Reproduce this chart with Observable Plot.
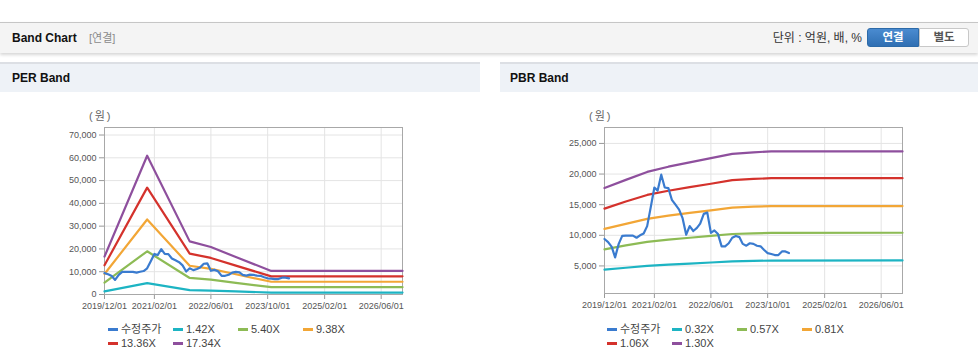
<!DOCTYPE html>
<html><head><meta charset="utf-8">
<script src="https://cdn.jsdelivr.net/npm/d3@7"></script>
<script src="https://cdn.jsdelivr.net/npm/@observablehq/plot@0.6"></script>
<style>
body{margin:0;width:978px;height:362px;position:relative;overflow:hidden;background:#fff;font-family:"Liberation Sans",Arial,"Noto Sans CJK KR",sans-serif;}
.abs{position:absolute}
.topbar{left:0;top:22px;width:978px;height:30px;background:#f4f4f4;border-top:1px solid #c6c6c6;box-shadow:0 2px 3px rgba(0,0,0,0.16)}
.hdr{top:62px;height:28px;background:#eef2f7;border-top:2px solid #dcdfe4}
.ttl{font-weight:bold;font-size:12px;color:#111;line-height:14px}
.unit{font-size:11px;color:#666;line-height:14px;letter-spacing:2px}
.leg{font-size:11px;color:#444;line-height:14px;white-space:nowrap}
.sw{display:inline-block;width:10px;height:3px;vertical-align:middle;margin-right:3px;position:relative;top:-1px}
.chart{top:100px}
</style></head>
<body>
<div class="abs topbar"></div>
<div class="abs ttl" style="left:12px;top:31px;">Band Chart</div>
<div class="abs" style="left:89px;top:31px;font-size:11px;color:#8a8a8a;line-height:14px">[연결]</div>
<div class="abs" style="left:700px;width:162px;text-align:right;top:31px;font-size:12px;color:#333;line-height:14px">단위 : 억원, 배, %</div>
<div class="abs" style="left:867px;top:28px;width:52px;height:19px;background:linear-gradient(#4a8bd0,#2f6fb3);border:1px solid #2c6aa8;box-sizing:border-box;border-radius:3px 0 0 3px;color:#fff;font-weight:bold;font-size:11.5px;text-align:center;line-height:17px">연결</div>
<div class="abs" style="left:919px;top:28px;width:50px;height:19px;background:#fff;border:1px solid #c8c8c8;box-sizing:border-box;border-radius:0 3px 3px 0;color:#555;font-weight:bold;font-size:11.5px;text-align:center;line-height:17px">별도</div>

<div class="abs hdr" style="left:0;width:480px"></div>
<div class="abs hdr" style="left:500px;width:478px"></div>
<div class="abs ttl" style="left:12px;top:71px">PER Band</div>
<div class="abs ttl" style="left:510px;top:71px">PBR Band</div>

<div class="abs unit" style="left:89px;top:109px">(원)</div>
<div class="abs unit" style="left:589px;top:109px">(원)</div>

<div id="per" class="abs chart" style="left:0"></div>
<div id="pbr" class="abs chart" style="left:500px"></div>

<script>
// ---- data ----
const xTickLabels = ["2019-12-01","2021-02-01","2022-06-01","2023-10-01","2025-02-01","2026-06-01"];
const xStart = "2019-12-01", xEnd = "2026-12-01";

const priceName = "수정주가";
const priceDates = ["2019-12-01",
 "2020-01-01","2020-02-01","2020-03-01","2020-04-01","2020-05-01","2020-06-01","2020-07-01","2020-08-01","2020-09-01","2020-10-01","2020-11-01","2020-12-01",
 "2021-01-01","2021-02-01","2021-03-01","2021-04-01","2021-05-01","2021-06-01","2021-07-01","2021-08-01","2021-09-01","2021-10-01","2021-11-01","2021-12-01",
 "2022-01-01","2022-02-01","2022-03-01","2022-04-01","2022-05-01","2022-06-01","2022-07-01","2022-08-01","2022-09-01","2022-10-01","2022-11-01","2022-12-01",
 "2023-01-01","2023-02-01","2023-03-01","2023-04-01","2023-05-01","2023-06-01","2023-07-01","2023-08-01","2023-09-01","2023-10-01","2023-11-01","2023-12-01",
 "2024-01-01","2024-02-01","2024-03-01","2024-04-01"];
const priceValues = [9400,
 8900,8100,6400,8600,9900,9950,9950,9950,9600,10000,10300,11500,
 14600,17800,17300,19900,17800,17700,15800,15000,14200,12800,10100,11500,
 10700,11200,11900,13500,13700,10400,10800,10200,8200,8200,8700,9600,
 9900,9700,8600,8300,8700,8600,8300,8200,7600,7100,6950,6780,
 6780,7370,7370,7100];

// PER band
const perBandDates = ["2019-12-01","2020-12-01","2021-12-01","2022-06-01","2023-01-01","2023-11-01","2026-12-01"];
const perNames = ["1.42X","5.40X","9.38X","13.36X","17.34X"];
const per142 = [1360, 4990, 1910, 1710, 1350, 850, 850];
const per540 = [5180, 18960, 7260, 6490, 5120, 3220, 3220];
const per938 = [9000, 32940, 12620, 11270, 8900, 5590, 5590];
const per1336 = [12830, 46920, 17970, 16050, 12680, 7960, 7960];
const per1734 = [16650, 60900, 23320, 20830, 16450, 10330, 10330];
const perYTicks = [0,10000,20000,30000,40000,50000,60000,70000];

// PBR band
const pbrBandDates = ["2019-12-01","2020-06-01","2020-12-01","2021-06-01","2021-12-01","2022-06-01","2022-12-01","2023-06-01","2023-11-01","2026-12-01"];
const pbrNames = ["0.32X","0.57X","0.81X","1.06X","1.30X"];
const pbr032 = [4400, 4700, 5010, 5220, 5390, 5560, 5730, 5820, 5880, 5900];
const pbr057 = [7700, 8350, 8920, 9290, 9600, 9910, 10210, 10330, 10400, 10420];
const pbr081 = [11040, 11870, 12680, 13200, 13650, 14080, 14520, 14680, 14760, 14770];
const pbr106 = [14350, 15530, 16590, 17280, 17860, 18420, 19000, 19210, 19320, 19330];
const pbr130 = [17720, 19050, 20350, 21200, 21900, 22600, 23300, 23550, 23700, 23700];
const pbrYTicks = [5000,10000,15000,20000,25000];

const colors = ["#3a7bcf","#1db4c3","#8dbb55","#f2a636","#d4322c","#8e4f9d"];

// ---- build ----
const P = d => new Date(d + "T00:00:00Z");
const xTicks = xTickLabels.map(P);

function rows(names, dates, arrays) {
  const out = [];
  names.forEach((n, i) => arrays[i].forEach((v, j) => out.push({series: n, date: P(dates[j]), value: v})));
  return out;
}

function chart({names, bandDates, bandArrays, yDomain, yTicks, width, mL, mR, mB}) {
  const bands = rows(names, bandDates, bandArrays);
  const price = priceDates.map((d, i) => ({series: priceName, date: P(d), value: priceValues[i]}));
  const domain = [priceName, ...names];
  return Plot.plot({
    width, height: 220, marginLeft: mL, marginRight: mR, marginTop: 27, marginBottom: mB,
    style: {fontFamily: "'Liberation Sans', Arial, sans-serif", fontSize: "9px", color: "#555", background: "transparent"},
    x: {type: "utc", domain: [P(xStart), P(xEnd)], label: null},
    y: {domain: yDomain, label: null},
    color: {domain, range: colors},
    marks: [
      Plot.gridX(xTicks, {stroke: "#e4e4e4", strokeOpacity: 1}),
      Plot.gridY(yTicks, {stroke: "#e4e4e4", strokeOpacity: 1}),
      Plot.axisX(xTicks, {tickFormat: d3.utcFormat("%Y/%m/%d"), tickSize: 5, tickPadding: 3, stroke: "#999", fill: "#555", label: null}),
      Plot.axisY(yTicks, {tickFormat: d3.format(","), tickSize: 5, tickPadding: 3, stroke: "#999", fill: "#555", label: null}),
      Plot.frame({stroke: "#a8a8a8"}),
      Plot.line(bands, {x: "date", y: "value", z: "series", stroke: "series", strokeWidth: 2.2}),
      Plot.line(price, {x: "date", y: "value", stroke: "series", strokeWidth: 2.2})
    ]
  });
}

document.getElementById("per").append(chart({
  names: perNames, bandDates: perBandDates, bandArrays: [per142, per540, per938, per1336, per1734],
  yDomain: [0, 73300], yTicks: perYTicks, width: 480, mL: 104, mR: 78, mB: 26
}));
document.getElementById("pbr").append(chart({
  names: pbrNames, bandDates: pbrBandDates, bandArrays: [pbr032, pbr057, pbr081, pbr106, pbr130],
  yDomain: [500, 27600], yTicks: pbrYTicks, width: 478, mL: 104, mR: 76, mB: 27
}));

function legend(left, names) {
  const all = [priceName, ...names];
  all.forEach((n, i) => {
    const d = document.createElement("div");
    d.className = "abs leg";
    d.style.left = (left + (i % 4) * 65) + "px";
    d.style.top = (322 + Math.floor(i / 4) * 14) + "px";
    d.innerHTML = `<span class="sw" style="background:${colors[i]}"></span>${n}`;
    document.body.append(d);
  });
}
legend(108, perNames);
legend(607, pbrNames);
</script>
</body></html>
